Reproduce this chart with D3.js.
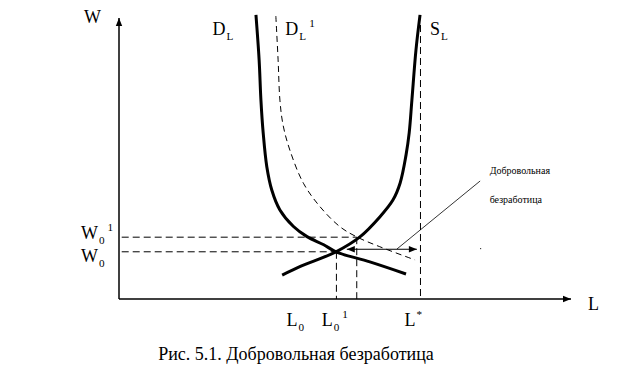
<!DOCTYPE html>
<html>
<head>
<meta charset="utf-8">
<script src="https://cdn.jsdelivr.net/npm/d3@7"></script>
<style>
  body { margin: 0; background: #fff; }
  text { font-family: "Liberation Serif", "Times New Roman", serif; }
  .thick { fill: none; stroke: #000; stroke-width: 3; }
  .thin-dash { fill: none; stroke: #000; stroke-width: 1; stroke-dasharray: 6,4; }
  .guide { fill: none; stroke: #000; stroke-width: 1; stroke-dasharray: 7,4; }
</style>
</head>
<body>
<svg id="chart" width="637" height="385"></svg>
<script>
// curves, in units of the chart (L across, W up, 0..100)
var demandL = [[30.3,101.1],[31.0,85.1],[31.4,70.8],[31.9,59.1],[32.7,47.1],[33.8,38.8],
               [35.6,31.7],[38.6,25.8],[41.6,22.2],[45.3,19.3],[48.0,16.8],[55.5,13.2],[63.5,8.9]];
var demandL1 = [[34.7,100.7],[35.2,85.1],[35.6,70.8],[36.3,61.9],[37.8,53.0],[40.8,41.2],
                [44.5,32.8],[48.9,25.7],[52.6,22.1],[57.7,18.6],[65.5,13.9]];
var supplyL = [[66.6,101.1],[65.7,88.6],[64.8,70.8],[64.2,59.1],[63.5,51.2],[62.2,41.3],
               [60.6,35.2],[57.7,29.2],[53.3,22.1],[48.0,16.8],[40.0,11.5],[36.1,8.5]];

// equilibrium levels
var wageLevels = [{name: "W", sub: "0", sup: "", value: 16.8, l: 48.1},
                  {name: "W", sub: "0", sup: "1", value: 22.0, l: 52.6}];
var laborLevels = [{name: "L", sub: "0", sup: "", value: 48.1, w: 16.8},
                   {name: "L", sub: "0", sup: "1", value: 52.6, w: 22.0},
                   {name: "L", sub: "", sup: "*", value: 66.7, w: 97.5}];

var gapArrow = {from: 50.4, to: 65.9, w: 17.7};
var pointer = [[61.5, 17.8], [79.9, 42.0]];
var noteLines = ["Добровольная", "безработица"];
var caption = "Рис. 5.1. Добровольная безработица";

var svg = d3.select("#chart"),
    margin = {top: 18, right: 66, bottom: 86, left: 119},
    chartWidth = +svg.attr("width") - margin.left - margin.right,
    chartHeight = +svg.attr("height") - margin.top - margin.bottom;

var x = d3.scaleLinear().domain([0, 100]).range([0, chartWidth]),
    y = d3.scaleLinear().domain([0, 100]).range([chartHeight, 0]);

var defs = svg.append("defs");
defs.append("marker")
    .attr("id", "head")
    .attr("viewBox", "0 0 10 10")
    .attr("refX", 10).attr("refY", 5)
    .attr("markerWidth", 10).attr("markerHeight", 8)
    .attr("markerUnits", "userSpaceOnUse")
    .attr("orient", "auto-start-reverse")
  .append("path")
    .attr("d", "M0,1L10,5L0,9Z")
    .attr("fill", "#000");

var g = svg.append("g")
    .attr("transform", "translate(" + margin.left + "," + margin.top + ")");

// axes
g.append("line")
    .attr("x1", x(0)).attr("y1", y(0))
    .attr("x2", x(0)).attr("y2", y(100))
    .attr("stroke", "#000").attr("stroke-width", 1.5)
    .attr("marker-end", "url(#head)");
g.append("line")
    .attr("x1", x(0)).attr("y1", y(0))
    .attr("x2", x(100)).attr("y2", y(0))
    .attr("stroke", "#000").attr("stroke-width", 1.5)
    .attr("marker-end", "url(#head)");

// guide lines
g.selectAll(".wguide")
  .data(wageLevels)
  .enter().append("line")
    .attr("class", "guide")
    .attr("x1", x(0.6)).attr("y1", function(d) { return y(d.value); })
    .attr("x2", function(d) { return x(d.l); })
    .attr("y2", function(d) { return y(d.value); });

g.selectAll(".lguide")
  .data(laborLevels)
  .enter().append("line")
    .attr("class", "guide")
    .attr("x1", function(d) { return x(d.value); }).attr("y1", function(d) { return y(d.w); })
    .attr("x2", function(d) { return x(d.value); }).attr("y2", y(0));

var line = d3.line()
    .x(function(d) { return x(d[0]); })
    .y(function(d) { return y(d[1]); })
    .curve(d3.curveCatmullRom.alpha(0.5));

g.append("path").datum(demandL1).attr("class", "thin-dash").attr("d", line);
g.append("path").datum(demandL).attr("class", "thick").attr("d", line);
g.append("path").datum(supplyL).attr("class", "thick").attr("d", line);

// gap arrow and pointer
g.append("line")
    .attr("x1", x(gapArrow.from)).attr("y1", y(gapArrow.w))
    .attr("x2", x(gapArrow.to)).attr("y2", y(gapArrow.w))
    .attr("stroke", "#000").attr("stroke-width", 1)
    .attr("marker-start", "url(#head)")
    .attr("marker-end", "url(#head)");

g.append("line")
    .attr("x1", x(pointer[0][0])).attr("y1", y(pointer[0][1]))
    .attr("x2", x(pointer[1][0])).attr("y2", y(pointer[1][1]))
    .attr("stroke", "#000").attr("stroke-width", 0.8);

g.append("rect")
    .attr("x", x(79.9)).attr("y", y(18.1))
    .attr("width", 1).attr("height", 1).attr("fill", "#000");

g.selectAll(".note")
  .data(noteLines)
  .enter().append("text")
    .attr("x", x(82))
    .attr("y", function(d, i) { return y(44.5) + i * 29; })
    .attr("font-size", 10)
    .text(function(d) { return d; });

// labels with sub / superscripts
function label(sel, name, sub, sup, size) {
  sel.append("tspan").text(name);
  if (sub) sel.append("tspan").attr("font-size", size * 0.62).attr("dy", 5).attr("dx", 1).text(sub);
  if (sup) sel.append("tspan").attr("font-size", size * 0.62)
      .attr("dy", sub ? -13 : -8).attr("dx", sub ? 3 : 1).text(sup);
}

var fs = 18;
var labelShift = [-50, -35, -16];

label(g.append("text").attr("x", -35).attr("y", y(100) + 5).attr("font-size", fs), "W", "", "", fs);
label(g.append("text").attr("x", x(100) + 17).attr("y", y(0) + 11).attr("font-size", fs), "L", "", "", fs);

wageLevels.forEach(function(d) {
  var t = g.append("text")
      .attr("x", -38)
      .attr("y", y(d.value) + (d.sup ? 2 : 10))
      .attr("font-size", fs);
  label(t, d.name, d.sub, d.sup, fs);
});

laborLevels.forEach(function(d, i) {
  var t = g.append("text")
      .attr("x", x(d.value) + labelShift[i])
      .attr("y", y(0) + 27)
      .attr("font-size", fs);
  label(t, d.name, d.sub, d.sup, fs);
});

label(g.append("text").attr("x", x(20.7)).attr("y", y(100) + 17).attr("font-size", fs), "D", "L", "", fs);
label(g.append("text").attr("x", x(36.8)).attr("y", y(100) + 17).attr("font-size", fs), "D", "L", "1", fs);
label(g.append("text").attr("x", x(68.8)).attr("y", y(100) + 17).attr("font-size", fs), "S", "L", "", fs);

svg.append("text")
    .attr("x", 296).attr("y", 360)
    .attr("text-anchor", "middle")
    .attr("font-size", 18)
    .text(caption);
</script>
</body>
</html>
